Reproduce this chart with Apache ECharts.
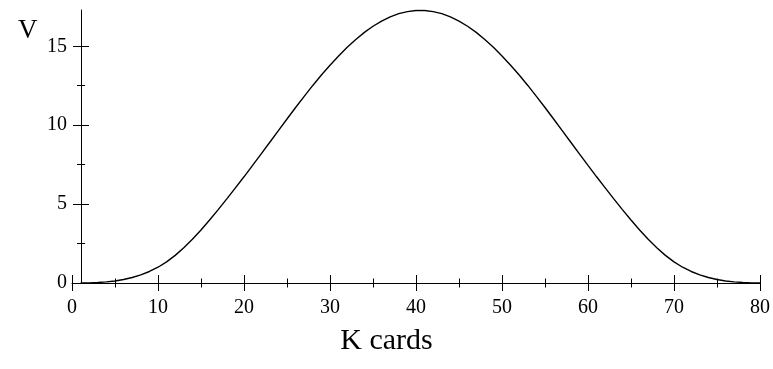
<!DOCTYPE html>
<html>
<head>
<meta charset="utf-8">
<script src="https://cdn.jsdelivr.net/npm/echarts@6/dist/echarts.min.js"></script>
<style>
  html, body { margin: 0; padding: 0; background: #fff; }
  #chart { width: 773px; height: 369px; }
</style>
</head>
<body>
<div id="chart"></div>
<script>
const kCards = [1, 2, 3, 4, 5, 6, 7, 8, 9, 10,
  11, 12, 13, 14, 15, 16, 17, 18, 19, 20,
  21, 22, 23, 24, 25, 26, 27, 28, 29, 30,
  31, 32, 33, 34, 35, 36, 37, 38, 39, 40,
  41, 42, 43, 44, 45, 46, 47, 48, 49, 50,
  51, 52, 53, 54, 55, 56, 57, 58, 59, 60,
  61, 62, 63, 64, 65, 66, 67, 68, 69, 70,
  71, 72, 73, 74, 75, 76, 77, 78, 79, 80];
const vValues = [0, 0.01, 0.03, 0.07, 0.13, 0.22, 0.35, 0.52, 0.73, 1.00,
  1.34, 1.75, 2.23, 2.77, 3.36, 3.99, 4.65, 5.33, 6.03, 6.73,
  7.45, 8.18, 8.92, 9.66, 10.39, 11.12, 11.83, 12.52, 13.18, 13.80,
  14.39, 14.94, 15.43, 15.88, 16.27, 16.60, 16.87, 17.07, 17.20, 17.27,
  17.27, 17.20, 17.07, 16.87, 16.60, 16.27, 15.88, 15.43, 14.94, 14.39,
  13.80, 13.18, 12.52, 11.83, 11.12, 10.39, 9.66, 8.92, 8.18, 7.45,
  6.73, 6.03, 5.33, 4.65, 3.99, 3.36, 2.77, 2.23, 1.75, 1.34,
  1.00, 0.73, 0.52, 0.35, 0.22, 0.13, 0.07, 0.03, 0.01, 0];
const yMajorTicks = [0, 5, 10, 15];
const yMinorTicks = [2.5, 7.5, 12.5];
const xTitle = 'K cards';
const yTitle = 'V';

const FONT = '"Liberation Serif", "Times New Roman", serif';
const chart = echarts.init(document.getElementById('chart'), null, { renderer: 'canvas' });

function xAx(inside, showLine, showLabel) {
  return {
    type: 'value', min: 0, max: 80, interval: 10, position: 'bottom',
    axisLine: { show: showLine, onZero: false, lineStyle: { color: '#000', width: 1 } },
    axisTick: { show: true, inside: inside, length: 8, lineStyle: { color: '#000', width: 1 } },
    minorTick: { show: true, splitNumber: 2, length: 4.5, lineStyle: { color: '#000', width: 1 } },
    axisLabel: { show: showLabel, color: '#000', fontFamily: FONT, fontSize: 20, margin: 15 },
    splitLine: { show: false }, minorSplitLine: { show: false }
  };
}
function yAx(inside, showLine, showLabel, ticks, len) {
  return {
    type: 'value', min: 0, max: 17.3, position: 'left', offset: -9,
    axisLine: { show: showLine, onZero: false, lineStyle: { color: '#000', width: 1 } },
    axisTick: { show: true, inside: inside, length: len, customValues: ticks, lineStyle: { color: '#000', width: 1 } },
    axisLabel: { show: showLabel, customValues: yMajorTicks, color: '#000', fontFamily: FONT, fontSize: 20, margin: 14 },
    splitLine: { show: false }
  };
}

chart.setOption({
  animation: false,
  backgroundColor: '#fff',
  title: [
    { text: yTitle, left: 13, top: 12, textStyle: { fontFamily: FONT, fontSize: 27, fontWeight: 'normal', color: '#000' } },
    { text: xTitle, left: 'center', top: 321, textStyle: { fontFamily: FONT, fontSize: 30, fontWeight: 'normal', color: '#000' } }
  ],
  grid: { left: 72, right: 13, top: 10, bottom: 86, containLabel: false },
  xAxis: [xAx(false, true, true), xAx(true, false, false)],
  yAxis: [
    yAx(false, true, true, yMajorTicks, 8),
    yAx(true, false, false, yMajorTicks, 8),
    yAx(false, false, false, yMinorTicks, 4),
    yAx(true, false, false, yMinorTicks, 4)
  ],
  series: [{
    type: 'line',
    xAxisIndex: 0, yAxisIndex: 0,
    data: kCards.map((k, i) => [k, vValues[i]]),
    showSymbol: false, smooth: false,
    lineStyle: { color: '#000', width: 1.4 }
  }]
});
</script>
</body>
</html>
